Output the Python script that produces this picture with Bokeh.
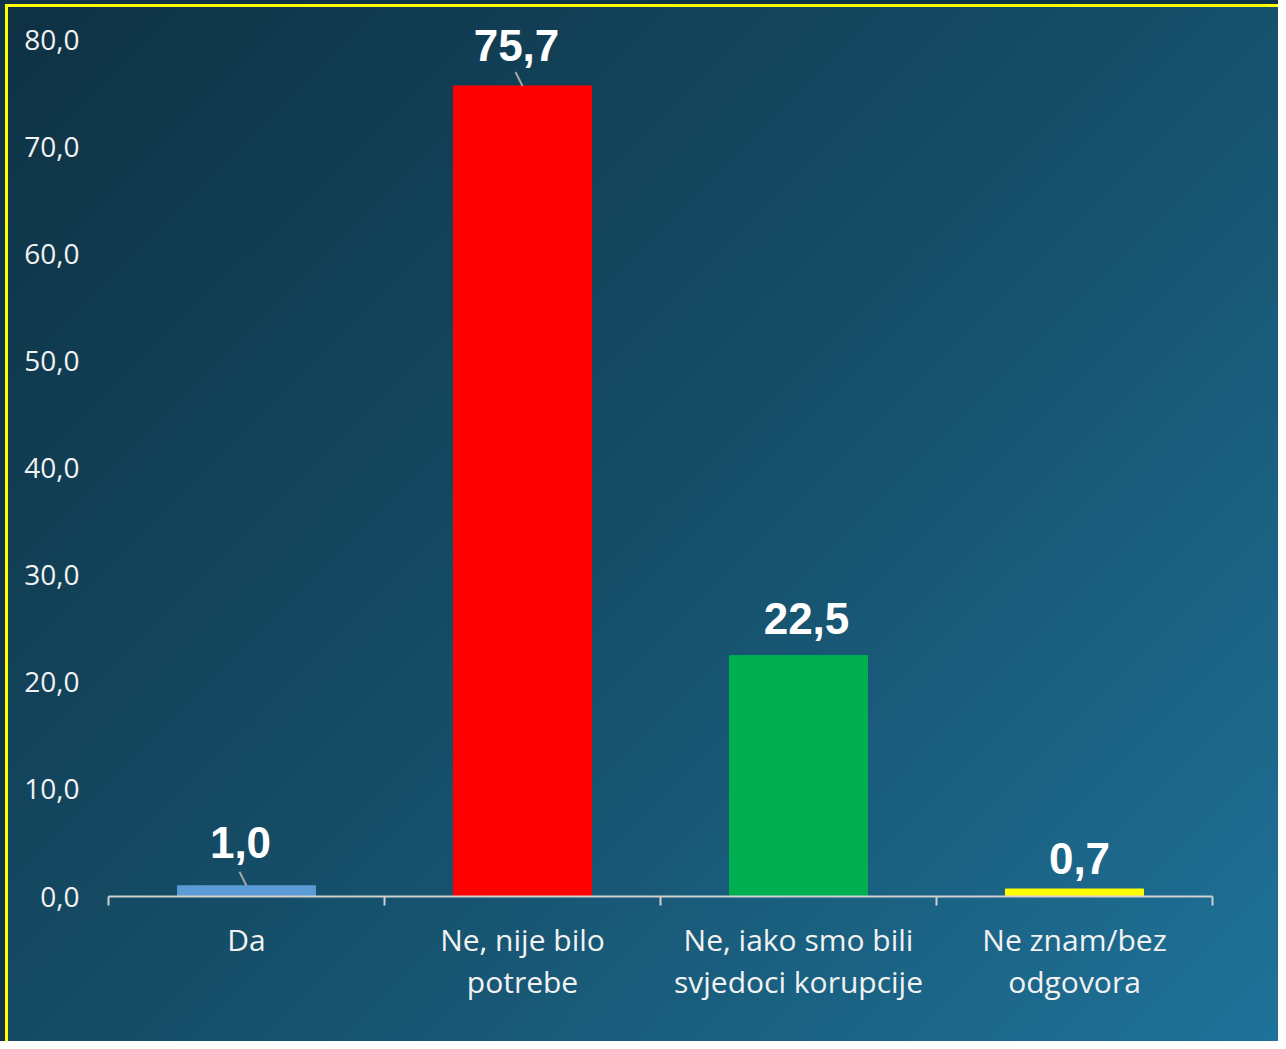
from bokeh.plotting import figure
from bokeh.models import FixedTicker, Range1d, ColumnDataSource
from bokeh.core.properties import value
from bokeh.embed import file_html
from bokeh.resources import INLINE

# ---- data ----
categories = ["Da", "Ne, nije bilo\npotrebe", "Ne, iako smo bili\nsvjedoci korupcije", "Ne znam/bez\nodgovora"]
values = [1.0, 75.7, 22.5, 0.7]
value_labels = ["1,0", "75,7", "22,5", "0,7"]
bar_colors = ["#5b9bd5", "#ff0000", "#00b050", "#ffff00"]
y_ticks = [0, 10, 20, 30, 40, 50, 60, 70, 80]
y_tick_labels = ["0,0", "10,0", "20,0", "30,0", "40,0", "50,0", "60,0", "70,0", "80,0"]
has_leader = [True, True, False, False]

# ---- label styling (pixel offsets) ----
label_dx = [-6, -6, 8, 5]
label_dy = [-43, -40, -37, -31]

W, H = 1278, 1041
ML, MR, MT, MB = 108, 66, 18, 145
FRAME_W = W - ML - MR
FRAME_H = H - MT - MB
Y_MAX = 82.0
N = len(categories)
px_x = N / FRAME_W
px_y = Y_MAX / FRAME_H

xs = [i + 0.5 for i in range(N)]

p = figure(width=W, height=H, output_backend="svg", toolbar_location=None,
           x_range=Range1d(0, N), y_range=Range1d(0, Y_MAX),
           min_border_left=ML, min_border_right=MR, min_border_top=MT, min_border_bottom=MB)
p.border_fill_color = None
p.background_fill_color = None
p.outline_line_color = None
p.styles = {
    "background": "linear-gradient(135deg, #0e3143 0%, #154d67 50%, #1f7299 100%)",
    "box-shadow": "inset 5px 4px 0 0 #0f3447, inset 8px 7px 0 0 #ffff00",
}
p.xgrid.visible = False
p.ygrid.visible = False

src = ColumnDataSource(dict(x=xs, top=values, color=bar_colors, lab=value_labels,
                            dx=label_dx, dy=label_dy))
p.vbar(x="x", top="top", bottom=0, width=0.5, color="color", source=src)

p.text(x="x", y="top", text="lab", x_offset="dx", y_offset="dy", source=src,
       text_font=value("Liberation Sans"), text_font_style="bold", text_font_size="44px",
       text_color="#ffffff", text_align="center", text_baseline="middle")

lx0, ly0, lx1, ly1 = [], [], [], []
for x, v, h in zip(xs, values, has_leader):
    if h:
        lx0.append(x)
        ly0.append(v)
        lx1.append(x - 7 * px_x)
        ly1.append(v + 14 * px_y)
p.segment(x0=lx0, y0=ly0, x1=lx1, y1=ly1, line_color="#a6a6a6", line_width=2)

# x axis
xa = p.xaxis[0]
xa.ticker = FixedTicker(ticks=xs, minor_ticks=list(range(N + 1)))
xa.major_label_overrides = {x: c for x, c in zip(xs, categories)}
xa.axis_line_color = "#d0d0d0"
xa.axis_line_width = 2
xa.major_tick_line_color = None
xa.major_tick_out = 0
xa.major_tick_in = 0
xa.minor_tick_line_color = "#d0d0d0"
xa.minor_tick_line_width = 2
xa.minor_tick_out = 9
xa.minor_tick_in = 0
xa.major_label_standoff = 13
xa.major_label_text_font = "Open Sans"
xa.major_label_text_font_size = "30px"
xa.major_label_text_color = "#f2f2f2"
xa.major_label_text_line_height = 1.03

# y axis
ya = p.yaxis[0]
ya.ticker = FixedTicker(ticks=y_ticks)
ya.major_label_overrides = {t: l for t, l in zip(y_ticks, y_tick_labels)}
ya.axis_line_color = None
ya.major_tick_line_color = None
ya.minor_tick_line_color = None
ya.major_tick_out = 0
ya.major_tick_in = 0
ya.major_label_standoff = 29
ya.major_label_text_font = "Open Sans"
ya.major_label_text_font_size = "28px"
ya.major_label_text_color = "#f2f2f2"

open("out.html", "w").write(file_html(p, INLINE))
